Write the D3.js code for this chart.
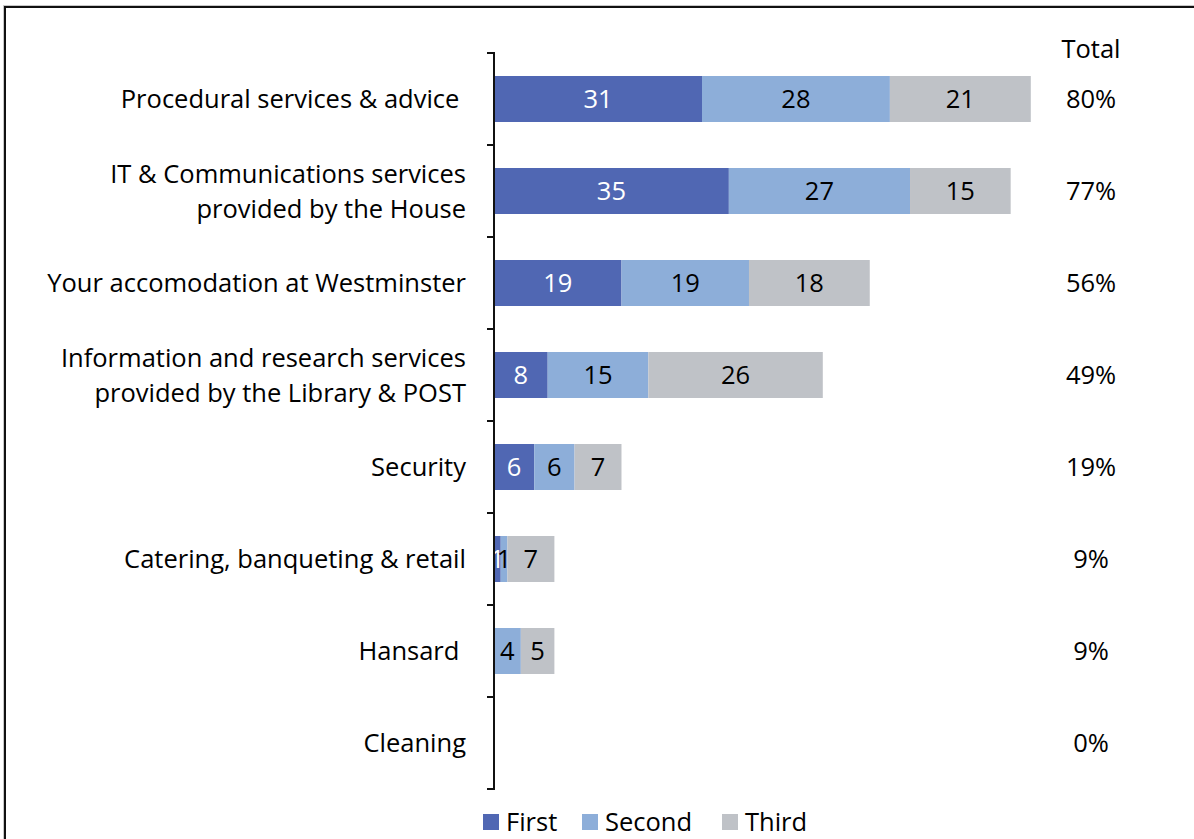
<!DOCTYPE html>
<html>
<head>
<meta charset="utf-8">
<script src="https://cdn.jsdelivr.net/npm/d3@7"></script>
<style>
  html, body { margin: 0; padding: 0; background: #fff; }
  svg { display: block; font-family: "Open Sans", Lato, sans-serif; }
</style>
</head>
<body>
<svg id="chart" width="1194" height="839"></svg>
<script>
// Service areas ranked first, second and third
const categories = [
  ["Procedural services & advice "],
  ["IT & Communications services", "provided by the House"],
  ["Your accomodation at Westminster"],
  ["Information and research services", "provided by the Library & POST"],
  ["Security"],
  ["Catering, banqueting & retail"],
  ["Hansard "],
  ["Cleaning"]
];
const seriesNames = ["First", "Second", "Third"];
const firstVals  = [31, 35, 19, 8, 6, 1, 0, 0];
const secondVals = [28, 27, 19, 15, 6, 1, 4, 0];
const thirdVals  = [21, 15, 18, 26, 7, 7, 5, 0];
const totals = ["80%", "77%", "56%", "49%", "19%", "9%", "9%", "0%"];
const colors = ["#5067b3", "#8daed9", "#bfc2c7"];
const labelColors = ["#ffffff", "#000000", "#000000"];

const svg = d3.select("#chart");
const fontSize = 25.5;

// outer frame
svg.append("rect")
  .attr("x", 3.5).attr("y", 5.5).attr("width", 1200).attr("height", 900)
  .attr("fill", "none").attr("stroke", "#c8c8c8").attr("stroke-width", 1);
svg.append("rect")
  .attr("x", 5).attr("y", 7).attr("width", 1200).attr("height", 900)
  .attr("fill", "none").attr("stroke", "#111").attr("stroke-width", 2);

const keys = categories.map((c, i) => i);
const y = d3.scaleBand().domain(keys).range([53, 789]).paddingInner(0.5).paddingOuter(0.25);
const yAxisScale = d3.scaleBand().domain(keys).range([53, 789]);
const x = d3.scaleLinear().domain([0, 100]).range([494, 1165]);

const rows = keys.map(i => ({ i, vals: [firstVals[i], secondVals[i], thirdVals[i]] }));
const stackData = rows.map(r => {
  const o = { i: r.i };
  seriesNames.forEach((s, k) => o[s] = r.vals[k]);
  return o;
});
const stacked = d3.stack().keys(seriesNames)(stackData);

// bars
const layers = svg.append("g").selectAll("g").data(stacked).join("g")
  .attr("fill", (d, k) => colors[k]);
layers.selectAll("rect").data(d => d).join("rect")
  .attr("x", d => x(d[0]))
  .attr("y", d => y(d.data.i))
  .attr("width", d => x(d[1]) - x(d[0]))
  .attr("height", y.bandwidth());

// value labels centred in each segment
const lbl = svg.append("g").attr("font-size", fontSize).attr("text-anchor", "middle");
stacked.forEach((layer, k) => {
  lbl.selectAll(null).data(layer.filter(d => d[1] - d[0] > 0)).join("text")
    .attr("x", d => (x(d[0]) + x(d[1])) / 2)
    .attr("y", d => y(d.data.i) + y.bandwidth() / 2)
    .attr("dy", "0.36em")
    .attr("fill", labelColors[k])
    .text(d => d[1] - d[0]);
});

// category axis with tick marks at band boundaries
const axisG = svg.append("g");
axisG.append("line")
  .attr("x1", 494).attr("x2", 494).attr("y1", 53).attr("y2", 789)
  .attr("stroke", "#111").attr("stroke-width", 2);
const bounds = keys.map(i => yAxisScale(i)).concat([yAxisScale.range()[1]]);
axisG.selectAll("line.tick").data(bounds).join("line").attr("class", "tick")
  .attr("x1", 487).attr("x2", 495).attr("y1", d => d).attr("y2", d => d)
  .attr("stroke", "#111").attr("stroke-width", 2);

// category labels
const catG = svg.append("g").attr("font-size", fontSize).attr("text-anchor", "end").attr("fill", "#000");
categories.forEach((lines, i) => {
  const cy = yAxisScale(i) + yAxisScale.bandwidth() / 2;
  const lh = 35;
  const t = catG.append("text").attr("x", 466).attr("y", cy).style("white-space", "pre");
  lines.forEach((ln, j) => {
    t.append("tspan").attr("x", 466)
      .attr("y", cy + (j - (lines.length - 1) / 2) * lh)
      .attr("dy", "0.36em").text(ln);
  });
});

// totals column
const totG = svg.append("g").attr("font-size", fontSize).attr("text-anchor", "middle").attr("fill", "#000");
totG.append("text").attr("x", 1091).attr("y", 49).attr("dy", "0.36em").text("Total");
totG.selectAll(null).data(totals).join("text")
  .attr("x", 1091)
  .attr("y", (d, i) => yAxisScale(i) + yAxisScale.bandwidth() / 2)
  .attr("dy", "0.36em")
  .text(d => d);

// legend
const legendX = [483, 582, 722];
const leg = svg.append("g").attr("font-size", fontSize);
seriesNames.forEach((s, k) => {
  leg.append("rect").attr("x", legendX[k]).attr("y", 814).attr("width", 16).attr("height", 16).attr("fill", colors[k]);
  leg.append("text").attr("x", legendX[k] + 23).attr("y", 822).attr("dy", "0.36em").text(s);
});
</script>
</body>
</html>
